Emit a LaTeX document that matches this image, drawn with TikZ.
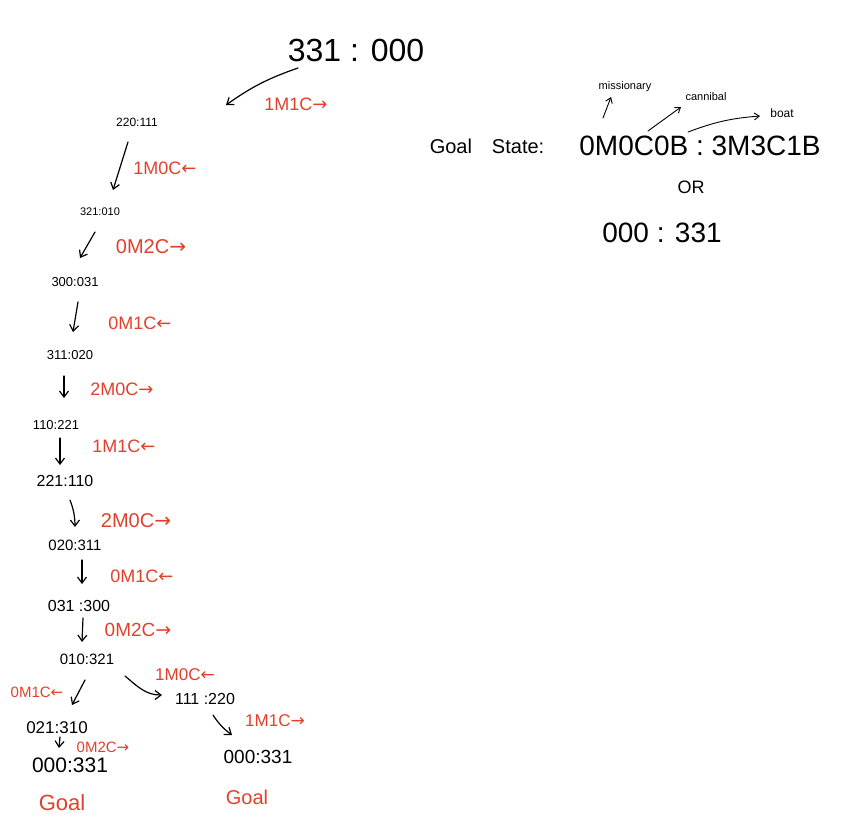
\documentclass[tikz,border=0pt]{standalone}
\usepackage{fontspec}
\setmainfont{Liberation Sans}
\newfontfamily\arrfont{DejaVu Sans}
\usetikzlibrary{arrows.meta}
\definecolor{inkred}{RGB}{226,64,44}
\newcommand{\fsz}[1]{\fontsize{#1}{#1}\selectfont}
\newcommand{\ra}{{\arrfont →}}
\newcommand{\la}{{\arrfont ←}}
\tikzset{
  st/.style={inner sep=0pt, text=black},
  mv/.style={inner sep=0pt, text=inkred},
  arr/.style={draw=black, line width=1.2pt, line cap=round, -{Straight Barb[length=6pt,width=9pt]}},
  thinarr/.style={draw=black, line width=0.9pt, line cap=round, -{Straight Barb[length=5pt,width=7pt]}}
}
\begin{document}
\begin{tikzpicture}[x=1pt,y=-1pt]
\useasboundingbox (0,0) rectangle (856,836);
% states
\node[st,font=\fsz{32}] (s0) at (356,50) {331 : 000};
\node[st,font=\fsz{12}] (s1) at (137,122) {220:111};
\node[st,font=\fsz{11}] (s2) at (100,212) {321:010};
\node[st,font=\fsz{13}] (s3) at (75,282) {300:031};
\node[st,font=\fsz{13}] (s4) at (70,355) {311:020};
\node[st,font=\fsz{13}] (s5) at (56,425) {110:221};
\node[st,font=\fsz{16}] (s6) at (65,481) {221:110};
\node[st,font=\fsz{15}] (s7) at (75,545) {020:311};
\node[st,font=\fsz{16}] (s8) at (79,606) {031 :300};
\node[st,font=\fsz{15}] (s9) at (87,659) {010:321};
\node[st,font=\fsz{16}] (s10) at (205,699) {111 :220};
\node[st,font=\fsz{17}] (s11) at (57,728) {021:310};
\node[st,font=\fsz{21}] (s12) at (70,765) {000:331};
\node[st,font=\fsz{19}] (s13) at (258,757) {000:331};
\node[mv,font=\fsz{22}] (g1) at (62,803) {Goal};
\node[mv,font=\fsz{20}] (g2) at (247,797) {Goal};
% move labels
\node[mv,font=\fsz{18}] (l1) at (296,104) {1M1C\ra};
\node[mv,font=\fsz{18}] (l2) at (165,168) {1M0C\la};
\node[mv,font=\fsz{20}] (l3) at (151,247) {0M2C\ra};
\node[mv,font=\fsz{18}] (l4) at (140,323) {0M1C\la};
\node[mv,font=\fsz{18}] (l5) at (122,389) {2M0C\ra};
\node[mv,font=\fsz{18}] (l6) at (124,446) {1M1C\la};
\node[mv,font=\fsz{20}] (l7) at (136,521) {2M0C\ra};
\node[mv,font=\fsz{18}] (l8) at (142,576) {0M1C\la};
\node[mv,font=\fsz{19}] (l9) at (138,630) {0M2C\ra};
\node[mv,font=\fsz{15}] (l10) at (37,692) {0M1C\la};
\node[mv,font=\fsz{17}] (l11) at (185,675) {1M0C\la};
\node[mv,font=\fsz{15}] (l12) at (103,747) {0M2C\ra};
\node[mv,font=\fsz{17}] (l13) at (275,721) {1M1C\ra};
% goal state
\node[st,font=\fsz{20}] (gs) at (487,146) {Goal\quad State:};
\node[st,font=\fsz{28}] (gv) at (700,146) {0M0C0B : 3M3C1B};
\node[st,font=\fsz{18}] (or) at (691,187) {OR};
\node[st,font=\fsz{28}] (g3) at (662,233) {000 : 331};
\node[st,font=\fsz{11}] (miss) at (625,87) {missionary};
\node[st,font=\fsz{11}] (cann) at (706,97) {cannibal};
\node[st,font=\fsz{12}] (boat) at (782,113) {boat};
% connectors
\draw[arr] ([shift={(-58,18)}]s0.center) to[bend right=8] ([shift={(89,-17)}]s1.center);
\draw[arr] ([shift={(-9,20)}]s1.center) -- ([shift={(13,-22)}]s2.center);
\draw[arr] ([shift={(-5,20)}]s2.center) -- ([shift={(5,-24)}]s3.center);
\draw[arr] ([shift={(3,20)}]s3.center) -- ([shift={(3,-23)}]s4.center);
\draw[arr] ([shift={(-6,21)}]s4.center) -- ([shift={(8,-27)}]s5.center);
\draw[arr] ([shift={(4,13)}]s5.center) -- ([shift={(-5,-16)}]s6.center);
\draw[arr] ([shift={(5,19)}]s6.center) to[bend left=10] ([shift={(0,-18)}]s7.center);
\draw[arr] ([shift={(7,15)}]s7.center) -- ([shift={(3,-22)}]s8.center);
\draw[arr] ([shift={(4,12)}]s8.center) -- ([shift={(-5,-17)}]s9.center);
\draw[arr] ([shift={(-2,21)}]s9.center) -- ([shift={(15,-23)}]s11.center);
\draw[arr] ([shift={(38,17)}]s9.center) to[out=-40,in=180] ([shift={(-43,-4)}]s10.center);
\draw[arr] ([shift={(3,9)}]s11.center) -- ([shift={(-11,-17)}]s12.center);
\draw[arr] ([shift={(8,16)}]s10.center) to[bend right=10] ([shift={(-26,-22)}]s13.center);
\draw[thinarr] ([shift={(-97,-28)}]gv.center) -- ([shift={(-14,10)}]miss.center);
\draw[thinarr] ([shift={(-52,-15)}]gv.center) -- ([shift={(-25,10)}]cann.center);
\draw[thinarr] ([shift={(-12,-14)}]gv.center) to[bend left=8] ([shift={(-22,3)}]boat.center);
\end{tikzpicture}
\end{document}
